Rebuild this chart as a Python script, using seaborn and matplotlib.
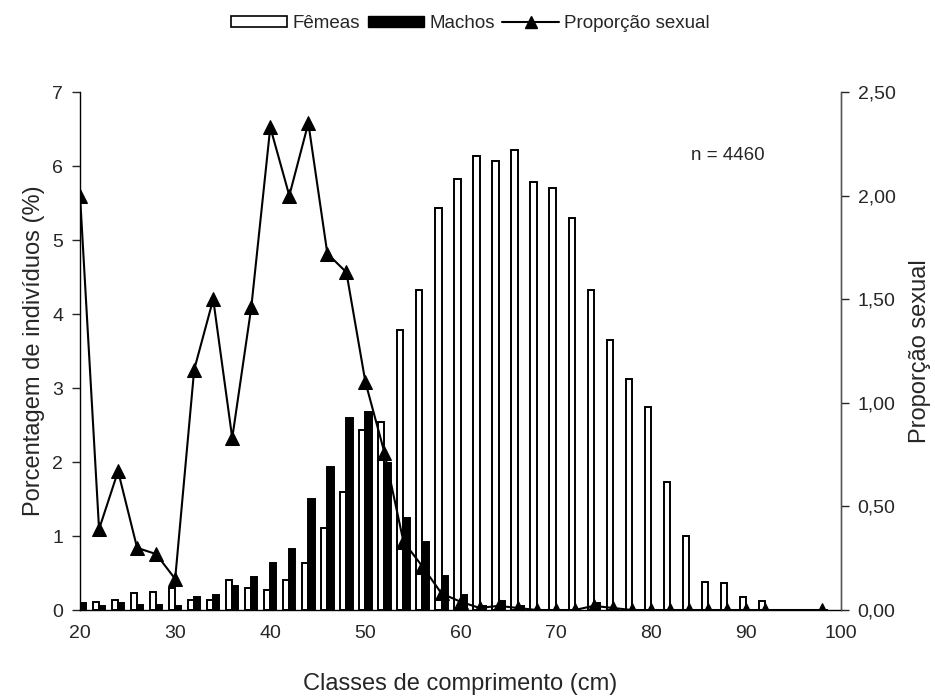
import numpy as np
import pandas as pd
import matplotlib
matplotlib.use("Agg")
import matplotlib.pyplot as plt
import seaborn as sns
from matplotlib.patches import Patch
from matplotlib.lines import Line2D
from matplotlib.ticker import FuncFormatter

# Dados (classes de 2 cm)
classes = list(range(20, 100, 2))
femeas = [0.045, 0.11, 0.14, 0.23, 0.25, 0.30, 0.14, 0.14, 0.41, 0.30,
          0.27, 0.41, 0.63, 1.11, 1.59, 2.43, 2.54, 3.78, 4.32, 5.43,
          5.83, 6.14, 6.07, 6.22, 5.78, 5.70, 5.30, 4.32, 3.65, 3.12,
          2.75, 1.73, 1.00, 0.38, 0.36, 0.17, 0.12, 0.0, 0.0, 0.0]
machos = [0.09, 0.05, 0.10, 0.07, 0.07, 0.05, 0.17, 0.20, 0.33, 0.44,
          0.63, 0.82, 1.50, 1.93, 2.60, 2.68, 1.98, 1.25, 0.92, 0.46,
          0.20, 0.06, 0.12, 0.06, 0.0, 0.0, 0.0, 0.09, 0.0, 0.0,
          0.0, 0.0, 0.0, 0.0, 0.0, 0.0, 0.0, 0.0, 0.0, 0.0]
proporcao = [2.00, 0.39, 0.67, 0.30, 0.27, 0.15, 1.16, 1.50, 0.83, 1.46,
             2.33, 2.00, 2.35, 1.72, 1.63, 1.10, 0.76, 0.33, 0.21, 0.08,
             0.04, 0.01, 0.02, 0.01, 0.0, 0.0, 0.0, 0.02, 0.01, 0.0,
             0.0, 0.0, 0.0, 0.0, 0.0, 0.0, 0.0, None, None, 0.0]

sns.set_style("white")
plt.rcParams['font.family'] = ['Liberation Sans', 'DejaVu Sans']

bars = pd.DataFrame({'classe': classes * 2,
                     'pct': femeas + machos,
                     'sexo': ['Fêmeas'] * len(classes) + ['Machos'] * len(classes)})
prop = pd.DataFrame({'classe': classes, 'prop': proporcao}).dropna()

fig = plt.figure(figsize=(9.35, 6.97), dpi=100)
ax = fig.add_axes([0.0856, 0.1248, 0.8139, 0.7432])

sns.barplot(data=bars, x='classe', y='pct', hue='sexo', native_scale=True,
            palette={'Fêmeas': 'white', 'Machos': 'black'}, width=0.65,
            edgecolor='black', linewidth=1.4, ax=ax, legend=False)
ax.set_xlim(20, 100)
ax.set_ylim(0, 7)
ax.set_xticks(range(20, 101, 10))
ax.set_yticks(range(0, 8))
ax.set_xlabel('Classes de comprimento (cm)', fontsize=17, labelpad=22)
ax.set_ylabel('Porcentagem de indivíduos (%)', fontsize=17, labelpad=5)
ax.tick_params(axis='x', direction='inout', length=10, width=1, labelsize=14, pad=6)
ax.tick_params(axis='y', direction='out', length=6, width=1, labelsize=14, pad=6, left=True)
ax.spines['top'].set_visible(False)
for s in ['left', 'bottom', 'right']:
    ax.spines[s].set_color('black')
    ax.spines[s].set_linewidth(1)

ax2 = ax.twinx()
sns.lineplot(data=prop, x='classe', y='prop', color='black', marker='^',
             markersize=10, linewidth=1.5, markeredgecolor='black', ax=ax2)
ax2.set_ylim(0, 2.5)
ax2.set_xlim(20, 100)
ax2.set_yticks(np.arange(0, 2.51, 0.5))
ax2.yaxis.set_major_formatter(FuncFormatter(lambda v, p: f'{v:.2f}'.replace('.', ',')))
ax2.set_ylabel('Proporção sexual', fontsize=17, labelpad=10)
ax2.tick_params(axis='y', direction='out', length=6, width=1, labelsize=14, pad=6, right=True)
ax2.spines['top'].set_visible(False)
ax2.spines['right'].set_color('#555555')
ax2.spines['left'].set_visible(False)
ax2.spines['bottom'].set_visible(False)

ax2.text(0.90, 0.878, 'n = 4460', transform=ax.transAxes, ha='right',
         va='center', fontsize=13.5)

handles = [Patch(facecolor='white', edgecolor='black', linewidth=1.2),
           Patch(facecolor='black', edgecolor='black'),
           Line2D([0], [0], color='black', marker='^', markersize=9, linewidth=1.5)]
fig.legend(handles, ['Fêmeas', 'Machos', 'Proporção sexual'], loc='center',
           bbox_to_anchor=(0.503, 0.966), ncol=3, frameon=False, fontsize=13.5,
           handlelength=3.0, handleheight=0.55, handletextpad=0.3, columnspacing=0.4)

fig.savefig('out.png', dpi=100)
